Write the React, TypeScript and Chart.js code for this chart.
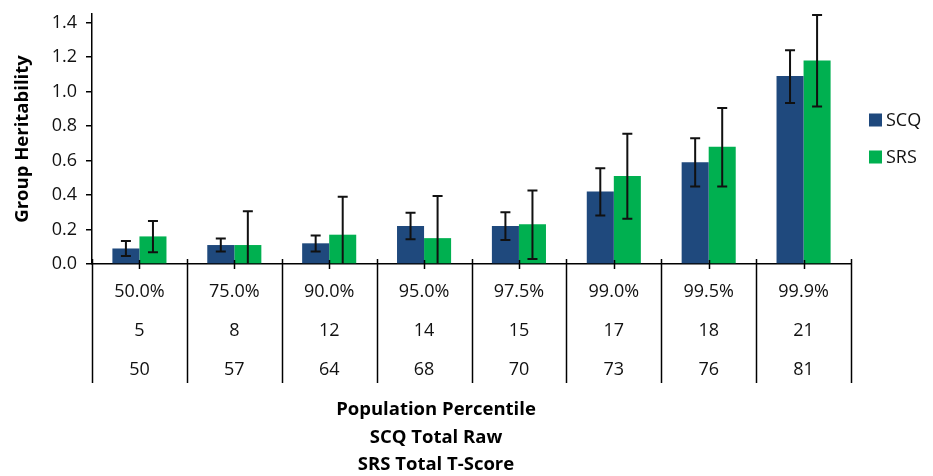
import { useEffect, useRef } from "react";
import { Chart, registerables } from "chart.js";

Chart.register(...registerables);

const percentiles = ["50.0%", "75.0%", "90.0%", "95.0%", "97.5%", "99.0%", "99.5%", "99.9%"];
const scqRaw = ["5", "8", "12", "14", "15", "17", "18", "21"];
const srsTScore = ["50", "57", "64", "68", "70", "73", "76", "81"];

const scqValues = [0.09, 0.11, 0.12, 0.22, 0.22, 0.42, 0.59, 1.09];
const srsValues = [0.16, 0.11, 0.17, 0.15, 0.23, 0.51, 0.68, 1.18];

const scqLow = [0.046, 0.073, 0.073, 0.144, 0.139, 0.281, 0.45, 0.934];
const scqHigh = [0.133, 0.148, 0.166, 0.297, 0.3, 0.555, 0.73, 1.24];
const srsLow = [0.068, -0.086, -0.05, -0.095, 0.029, 0.262, 0.45, 0.913];
const srsHigh = [0.25, 0.306, 0.39, 0.395, 0.426, 0.755, 0.905, 1.444];

const yTitle = "Group Heritability";
const xTitleLines = ["Population Percentile", "SCQ Total Raw", "SRS Total T-Score"];
const seriesNames = ["SCQ", "SRS"];
const seriesColors = ["#1F497D", "#00B050"];

const FONT = "'Open Sans', 'Noto Sans', sans-serif";
const TEXT = "#111";

const errorBars = [
  { low: scqLow, high: scqHigh },
  { low: srsLow, high: srsHigh },
];

const decorPlugin = {
  id: "decor",
  afterDatasetsDraw(chart: any) {
    const ctx = chart.ctx;
    const y = chart.scales.y;
    const area = chart.chartArea;
    ctx.save();
    ctx.beginPath();
    ctx.rect(area.left, area.top - 3, area.right - area.left, area.bottom - area.top + 3);
    ctx.clip();
    ctx.strokeStyle = "#111";
    ctx.lineWidth = 2;
    errorBars.forEach((set, di) => {
      const meta = chart.getDatasetMeta(di);
      meta.data.forEach((bar: any, i: number) => {
        const x = bar.x;
        const yl = y.getPixelForValue(set.low[i]);
        const yh = y.getPixelForValue(set.high[i]);
        ctx.beginPath();
        ctx.moveTo(x, yl);
        ctx.lineTo(x, yh);
        ctx.moveTo(x - 5, yh);
        ctx.lineTo(x + 5, yh);
        ctx.moveTo(x - 5, yl);
        ctx.lineTo(x + 5, yl);
        ctx.stroke();
      });
    });
    ctx.restore();
  },
  afterDraw(chart: any) {
    const ctx = chart.ctx;
    const xs = chart.scales.x;
    const area = chart.chartArea;
    const n = percentiles.length;
    const half = (xs.getPixelForValue(1) - xs.getPixelForValue(0)) / 2;
    ctx.save();
    ctx.strokeStyle = "#000";
    ctx.lineWidth = 1.5;
    for (let i = 0; i <= n; i++) {
      const bx = Math.round(xs.getPixelForValue(Math.min(i, n - 1)) + (i === n ? half : -half)) + 0.5;
      ctx.beginPath();
      ctx.moveTo(bx, area.bottom - 5);
      ctx.lineTo(bx, area.bottom + 119);
      ctx.stroke();
    }
    for (let i = 0; i < n; i++) {
      const cx = Math.round(xs.getPixelForValue(i)) + 0.5;
      ctx.beginPath();
      ctx.moveTo(cx, area.bottom - 4);
      ctx.lineTo(cx, area.bottom + 5);
      ctx.stroke();
    }
    ctx.fillStyle = TEXT;
    ctx.font = `18px ${FONT}`;
    ctx.textAlign = "center";
    ctx.textBaseline = "middle";
    const rows = [percentiles, scqRaw, srsTScore];
    const rowY = [292, 331, 370];
    rows.forEach((row, r) => {
      row.forEach((t, i) => {
        ctx.fillText(t, xs.getPixelForValue(i), rowY[r]);
      });
    });
    ctx.font = `bold 18.5px ${FONT}`;
    ctx.fillStyle = "#000";
    const titleY = [410, 437.5, 465];
    xTitleLines.forEach((t, i) => ctx.fillText(t, 436, titleY[i]));
    ctx.font = `18px ${FONT}`;
    ctx.textAlign = "left";
    const legY = [120, 157];
    seriesNames.forEach((name, i) => {
      ctx.fillStyle = seriesColors[i];
      ctx.fillRect(869, legY[i] - 6.5, 13, 13);
      ctx.fillStyle = TEXT;
      ctx.fillText(name, 886, legY[i] + 1);
    });
    ctx.restore();
  },
};

export default function App() {
  const ref = useRef<HTMLCanvasElement>(null);
  useEffect(() => {
    document.body.style.margin = "0";
    const chart = new Chart(ref.current as HTMLCanvasElement, {
      type: "bar",
      data: {
        labels: percentiles,
        datasets: [
          {
            label: seriesNames[0],
            data: scqValues,
            backgroundColor: seriesColors[0],
            barPercentage: 1,
            categoryPercentage: 0.57,
          },
          {
            label: seriesNames[1],
            data: srsValues,
            backgroundColor: seriesColors[1],
            barPercentage: 1,
            categoryPercentage: 0.57,
          },
        ],
      },
      options: {
        animation: false,
        responsive: false,
        layout: { padding: { left: 0, right: 82, top: 14, bottom: 0 } },
        plugins: { legend: { display: false }, tooltip: { enabled: false } },
        scales: {
          x: {
            grid: { display: false },
            ticks: { display: false },
            border: { display: true, color: "#000", width: 1.5 },
            afterFit: (s: any) => {
              s.height = 212;
              s.paddingLeft = 0;
              s.paddingRight = 0;
            },
          },
          y: {
            min: 0,
            max: 1.45,
            ticks: {
              stepSize: 0.2,
              includeBounds: false,
              padding: 9,
              color: TEXT,
              font: { family: FONT, size: 18 },
              callback: (v: any) => Number(v).toFixed(1),
            },
            grid: { drawOnChartArea: false, drawTicks: true, tickLength: 6, color: "#000", lineWidth: 1.5 },
            border: { display: true, color: "#000", width: 1.5 },
            title: {
              display: true,
              text: yTitle,
              color: "#000",
              font: { family: FONT, size: 18.5, weight: "bold" },
              padding: { top: 12, bottom: 0 },
            },
            afterFit: (s: any) => {
              s.width = 92;
              s.paddingTop = 0;
              s.paddingBottom = 0;
            },
          },
        },
      },
      plugins: [decorPlugin],
    });
    return () => chart.destroy();
  }, []);
  return <canvas ref={ref} width={933} height={476} style={{ display: "block" }} />;
}
